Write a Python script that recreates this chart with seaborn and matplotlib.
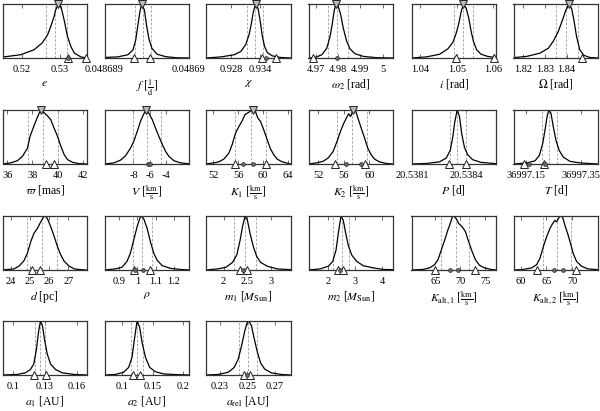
import numpy as np
import pandas as pd
import matplotlib
matplotlib.use("Agg")
import matplotlib.pyplot as plt
import seaborn as sns

sns.set_theme(style="ticks")
plt.rcParams["font.family"] = ["Liberation Serif", "DejaVu Serif"]
plt.rcParams["mathtext.fontset"] = "stix"

# ---------------- data ----------------
e_x = [0.5153, 0.5197, 0.5232, 0.5254, 0.5268, 0.5276, 0.5285, 0.5289, 0.5296, 0.5303, 0.5311, 0.5320, 0.5329, 0.5338, 0.5355, 0.5371]
e_y = [0.02, 0.06, 0.15, 0.28, 0.43, 0.58, 0.77, 0.89, 1.0, 0.95, 0.71, 0.40, 0.21, 0.09, 0.02, 0.0]
e_q = [0.5263, 0.5288, 0.5318]; e_peak = [0.5296]; e_tri = [0.5320, 0.5368]; e_dot = [0.5322]
e_ticks = [0.52, 0.53]; e_labels = ["0.52", "0.53"]; e_lim = (0.5150, 0.5371)

f_x = [0.048689000, 0.048689154, 0.048689276, 0.048689337, 0.048689370, 0.048689398, 0.048689419, 0.048689439,
       0.048689472, 0.048689500, 0.048689528, 0.048689561, 0.048689622, 0.048689724, 0.048689846, 0.048690000]
f_y = [0.01, 0.02, 0.06, 0.15, 0.34, 0.64, 0.86, 1.0, 0.89, 0.58, 0.34, 0.18, 0.07, 0.025, 0.005, 0.0]
f_q = [0.048689357, 0.048689455, 0.048689549]; f_peak = [0.048689439]; f_tri = [0.048689350, 0.048689533]; f_dot = []
f_ticks = [0.048689, 0.04869]; f_labels = ["0.048689", "0.04869"]; f_lim = (0.0486889995, 0.0486900005)

chi_x = [0.92288, 0.92595, 0.92868, 0.93005, 0.93107, 0.93175, 0.93223, 0.93264, 0.93312, 0.93360, 0.93401, 0.93449,
         0.93496, 0.93551, 0.93654, 0.93824, 0.94029]
chi_y = [0.0, 0.02, 0.06, 0.12, 0.25, 0.43, 0.64, 0.86, 1.0, 0.92, 0.71, 0.40, 0.21, 0.10, 0.04, 0.01, 0.0]
chi_q = [0.93128, 0.93298, 0.93470]; chi_peak = [0.93312]; chi_tri = [0.93449, 0.93722]; chi_dot = [0.93517]
chi_ticks = [0.928, 0.934]; chi_labels = ["0.928", "0.934"]; chi_lim = (0.92288, 0.94029)

w2_x = [4.96679, 4.96978, 4.97277, 4.97500, 4.97647, 4.97750, 4.97826, 4.97902, 4.98018, 4.98125, 4.98241, 4.98393,
        4.98540, 4.98763, 4.99134, 4.99732, 5.00473]
w2_y = [0.0, 0.01, 0.06, 0.18, 0.40, 0.64, 0.86, 1.0, 0.95, 0.80, 0.55, 0.31, 0.17, 0.08, 0.03, 0.006, 0.0]
w2_q = [4.97545, 4.97946, 4.98464]; w2_peak = [4.97902]; w2_tri = [4.96875]; w2_dot = [4.97973]
w2_ticks = [4.97, 4.98, 4.99, 5.0]; w2_labels = ["4.97", "4.98", "4.99", "5"]; w2_lim = (4.9668, 5.0047)

inc_x = [1.03754, 1.04164, 1.04527, 1.04753, 1.04890, 1.04982, 1.05053, 1.05119, 1.05181, 1.05255, 1.05326, 1.05392,
         1.05454, 1.05544, 1.05664, 1.05844, 1.06074]
inc_y = [0.0, 0.02, 0.07, 0.17, 0.29, 0.46, 0.64, 0.86, 1.0, 0.92, 0.74, 0.49, 0.31, 0.15, 0.07, 0.03, 0.006]
inc_q = [1.04917, 1.05162, 1.05454]; inc_peak = [1.05181]; inc_tri = [1.04963, 1.06008]; inc_dot = []
inc_ticks = [1.04, 1.05, 1.06]; inc_labels = ["1.04", "1.05", "1.06"]; inc_lim = (1.03754, 1.06074)

Om_x = [1.81539, 1.82157, 1.82770, 1.83152, 1.83382, 1.83613, 1.83816, 1.83968, 1.84120, 1.84230, 1.84336, 1.84461,
        1.84613, 1.84797, 1.85074, 1.85456]
Om_y = [0.006, 0.03, 0.09, 0.18, 0.31, 0.49, 0.71, 0.89, 1.0, 0.92, 0.71, 0.40, 0.15, 0.05, 0.01, 0.0]
Om_q = [1.83507, 1.83954, 1.84507]; Om_peak = [1.84120]; Om_tri = [1.84737]; Om_dot = []
Om_ticks = [1.82, 1.83, 1.84]; Om_labels = ["1.82", "1.83", "1.84"]; Om_lim = (1.81539, 1.85456)

plx_x = [35.60, 36.26, 36.80, 37.20, 37.60, 37.81, 38.00, 38.26, 38.53, 38.72, 38.93, 39.20, 39.46, 39.73, 40.00,
         40.26, 40.53, 40.80, 41.20, 41.73, 42.34]
plx_y = [0.0, 0.02, 0.06, 0.14, 0.29, 0.51, 0.63, 0.79, 0.94, 1.0, 0.95, 0.89, 0.82, 0.66, 0.51, 0.33, 0.17, 0.08,
         0.03, 0.006, 0.0]
plx_q = [37.65, 38.88, 40.05]; plx_peak = [38.72]; plx_tri = [39.06, 39.68]; plx_dot = []
plx_ticks = [36, 38, 40, 42]; plx_labels = ["36", "38", "40", "42"]; plx_lim = (35.62, 42.34)

V_x = [-11.59, -10.46, -9.63, -9.0, -8.38, -7.96, -7.54, -7.13, -6.71, -6.41, -6.09, -5.66, -5.25, -4.84, -4.41,
       -4.0, -3.59, -2.96, -2.13, -0.88]
V_y = [0.0, 0.02, 0.07, 0.15, 0.29, 0.42, 0.60, 0.79, 0.93, 1.0, 0.94, 0.82, 0.66, 0.51, 0.36, 0.23, 0.14, 0.06,
       0.02, 0.0]
V_q = [-8.05, -6.35, -4.55]; V_peak = [-6.41]; V_tri = []; V_dot = [-6.2, -5.9]
V_ticks = [-8, -6, -4]; V_labels = ["-8", "-6", "-4"]; V_lim = (-11.6, -1.1)

K1_x = [50.77, 52.10, 52.90, 53.70, 54.50, 55.04, 55.57, 56.10, 56.64, 57.06, 57.44, 57.86, 58.34, 58.77, 59.14,
        59.57, 60.10, 60.64, 61.17, 61.70, 62.24, 63.04, 64.37]
K1_y = [0.0, 0.02, 0.04, 0.09, 0.20, 0.36, 0.57, 0.69, 0.80, 0.91, 0.94, 0.97, 1.0, 0.97, 0.85, 0.79, 0.63, 0.45,
        0.28, 0.17, 0.09, 0.04, 0.0]
K1_q = [55.46, 57.97, 60.48]; K1_peak = [58.34]; K1_tri = [55.46, 60.37]; K1_dot = [56.8, 58.34]
K1_ticks = [52, 56, 60, 64]; K1_labels = ["52", "56", "60", "64"]; K1_lim = (50.85, 64.37)

K2_x = [50.45, 51.75, 52.78, 53.55, 54.33, 54.95, 55.47, 55.98, 56.40, 56.76, 57.07, 57.43, 57.84, 58.20, 58.73,
        59.24, 59.75, 60.28, 60.79, 61.57, 62.60, 63.63]
K2_y = [0.0, 0.02, 0.05, 0.11, 0.23, 0.42, 0.60, 0.75, 0.85, 0.93, 0.88, 1.0, 0.99, 0.85, 0.66, 0.48, 0.29, 0.17,
        0.09, 0.04, 0.01, 0.0]
K2_q = [55.01, 57.27, 59.60]; K2_peak = [57.43]; K2_tri = [54.59, 59.35]; K2_dot = [56.40, 58.73]
K2_ticks = [52, 56, 60]; K2_labels = ["52", "56", "60"]; K2_lim = (50.5, 63.67)

P_x = [20.5380967, 20.5381794, 20.5382528, 20.5382897, 20.5383118, 20.5383262, 20.5383372, 20.5383504, 20.5383631,
       20.5383758, 20.5383907, 20.5384089, 20.5384365, 20.5384828, 20.5385656]
P_y = [0.0, 0.01, 0.04, 0.11, 0.25, 0.50, 0.78, 1.0, 0.88, 0.56, 0.31, 0.17, 0.08, 0.03, 0.006]
P_q = [20.5383118, 20.5383482, 20.5384001]; P_peak = []; P_tri = [20.538304, 20.5384]; P_dot = []
P_ticks = [20.5381, 20.5384]; P_labels = ["20.5381", "20.5384"]; P_lim = (20.538097, 20.538566)

T_x = [36997.1057, 36997.1536, 36997.1832, 36997.1986, 36997.2107, 36997.2189, 36997.2271, 36997.2332, 36997.2403,
       36997.2486, 36997.2582, 36997.2700, 36997.2843, 36997.3082, 36997.3439, 36997.4093]
T_y = [0.0, 0.02, 0.06, 0.16, 0.38, 0.63, 0.90, 1.0, 0.94, 0.69, 0.44, 0.25, 0.13, 0.05, 0.02, 0.0]
T_q = [36997.2071, 36997.2332, 36997.2628]; T_peak = []; T_tri = [36997.1439, 36997.2153]; T_dot = [36997.1629, 36997.2200]
T_ticks = [36997.15, 36997.35]; T_labels = ["36997.15", "36997.35"]; T_lim = (36997.1057, 36997.4093)

d_x = [23.57, 24.17, 24.43, 24.69, 24.87, 25.04, 25.21, 25.39, 25.56, 25.70, 25.79, 25.91, 26.08, 26.26, 26.43,
       26.60, 26.78, 27.04, 27.30, 27.65, 27.96]
d_y = [0.0, 0.02, 0.07, 0.17, 0.31, 0.52, 0.68, 0.77, 0.89, 0.98, 1.0, 0.95, 0.80, 0.62, 0.43, 0.28, 0.16, 0.07,
       0.02, 0.006, 0.0]
d_q = [24.83, 25.65, 26.43]; d_peak = []; d_tri = [25.13, 25.51]; d_dot = []
d_ticks = [24, 25, 26, 27]; d_labels = ["24", "25", "26", "27"]; d_lim = (23.58, 27.96)

rho_x = [0.8188, 0.8779, 0.9149, 0.9425, 0.9608, 0.9790, 0.9978, 1.0122, 1.0199, 1.0343, 1.0530, 1.0713, 1.0895,
         1.1083, 1.1359, 1.1818, 1.2370, 1.2923]
rho_y = [0.0, 0.02, 0.05, 0.16, 0.31, 0.55, 0.80, 0.95, 1.0, 0.95, 0.77, 0.52, 0.31, 0.18, 0.08, 0.03, 0.01, 0.0]
rho_q = [0.9735, 1.0254, 1.0807]; rho_peak = []; rho_tri = [0.9829, 1.0713]; rho_dot = [0.9847, 1.031]
rho_ticks = [0.9, 1.0, 1.1, 1.2]; rho_labels = ["0.9", "1", "1.1", "1.2"]; rho_lim = (0.8188, 1.283)

m1_x = [1.626, 1.873, 2.049, 2.190, 2.281, 2.351, 2.402, 2.457, 2.507, 2.562, 2.634, 2.704, 2.789, 2.930, 3.142, 3.423]
m1_y = [0.0, 0.02, 0.05, 0.14, 0.28, 0.55, 0.80, 1.0, 0.92, 0.68, 0.43, 0.25, 0.14, 0.07, 0.02, 0.006]
m1_q = [2.224, 2.457, 2.683]; m1_peak = []; m1_tri = [2.351, 2.493]; m1_dot = [2.42]
m1_ticks = [2, 2.5, 3]; m1_labels = ["2", "2.5", "3"]; m1_lim = (1.626, 3.423)

m2_x = [1.295, 1.720, 2.022, 2.182, 2.302, 2.385, 2.484, 2.567, 2.655, 2.749, 2.873, 3.055, 3.295, 3.658, 4.022, 4.385]
m2_y = [0.0, 0.02, 0.07, 0.16, 0.37, 0.68, 1.0, 0.92, 0.68, 0.46, 0.28, 0.16, 0.08, 0.04, 0.01, 0.006]
m2_q = [2.182, 2.509, 2.775]; m2_peak = []; m2_tri = [2.385, 2.545]; m2_dot = [2.46]
m2_ticks = [2, 3, 4]; m2_labels = ["2", "3", "4"]; m2_lim = (1.295, 4.385)

Ka1_x = [60.23, 62.53, 63.87, 64.86, 65.52, 66.19, 66.85, 67.50, 67.98, 68.38, 68.70, 69.17, 69.69, 70.37, 71.02,
         71.68, 72.36, 73.01, 73.81, 74.80, 76.13, 77.13]
Ka1_y = [0.0, 0.01, 0.04, 0.10, 0.19, 0.37, 0.55, 0.74, 0.86, 0.98, 1.0, 0.95, 0.86, 0.80, 0.71, 0.52, 0.34, 0.19,
         0.09, 0.04, 0.01, 0.0]
Ka1_q = [66.19, 69.04, 71.68]; Ka1_peak = []; Ka1_tri = [65.0, 73.01]; Ka1_dot = [67.98, 69.63]
Ka1_ticks = [65, 70, 75]; Ka1_labels = ["65", "70", "75"]; Ka1_lim = (60.23, 77.13)

Ka2_x = [58.57, 60.50, 62.13, 63.10, 63.74, 64.38, 65.04, 65.68, 66.20, 66.65, 66.98, 67.29, 67.62, 68.14, 68.59,
         69.11, 69.69, 70.19, 70.85, 71.82, 73.10, 75.04]
Ka2_y = [0.0, 0.01, 0.04, 0.10, 0.22, 0.43, 0.62, 0.77, 0.86, 0.92, 0.89, 0.95, 1.0, 0.98, 0.83, 0.68, 0.49, 0.31,
         0.16, 0.07, 0.02, 0.006]
Ka2_q = [64.38, 67.09, 69.69]; Ka2_peak = []; Ka2_tri = [63.10, 70.66]; Ka2_dot = [66.45, 68.26]
Ka2_ticks = [60, 65, 70]; Ka2_labels = ["60", "65", "70"]; Ka2_lim = (58.57, 75.04)

a1_x = [0.0898, 0.1033, 0.1112, 0.1160, 0.1192, 0.1218, 0.1237, 0.1256, 0.1275, 0.1294, 0.1320, 0.1352, 0.1400,
        0.1464, 0.1575, 0.1697]
a1_y = [0.0, 0.01, 0.04, 0.10, 0.20, 0.48, 0.79, 1.0, 0.91, 0.66, 0.39, 0.20, 0.10, 0.04, 0.01, 0.0]
a1_q = [0.1201, 0.1249, 0.1297]; a1_peak = []; a1_tri = [0.1192, 0.1304]; a1_dot = []
a1_ticks = [0.1, 0.13, 0.16]; a1_labels = ["0.1", "0.13", "0.16"]; a1_lim = (0.0896, 0.1697)

a2_x = [0.0715, 0.0890, 0.1026, 0.1108, 0.1164, 0.1202, 0.1246, 0.1289, 0.1328, 0.1382, 0.1452, 0.1546, 0.1682,
        0.1902, 0.2092]
a2_y = [0.0, 0.01, 0.05, 0.14, 0.33, 0.66, 1.0, 0.88, 0.60, 0.33, 0.14, 0.06, 0.02, 0.006, 0.0]
a2_q = [0.1152, 0.1246, 0.1338]; a2_peak = []; a2_tri = [0.1180, 0.1300]; a2_dot = []
a2_ticks = [0.1, 0.15, 0.2]; a2_labels = ["0.1", "0.15", "0.2"]; a2_lim = (0.0715, 0.2092)

ar_x = [0.2198, 0.2288, 0.2360, 0.2404, 0.2433, 0.2458, 0.2482, 0.2499, 0.2511, 0.2531, 0.2549, 0.2574, 0.2598,
        0.2627, 0.2676, 0.2749, 0.2816]
ar_y = [0.0, 0.01, 0.05, 0.14, 0.29, 0.54, 0.82, 0.97, 1.0, 0.91, 0.69, 0.42, 0.22, 0.11, 0.04, 0.01, 0.0]
ar_q = [0.2440, 0.2506, 0.2571]; ar_peak = []; ar_tri = [0.2477, 0.2518]; ar_dot = [0.2499]
ar_ticks = [0.23, 0.25, 0.27]; ar_labels = ["0.23", "0.25", "0.27"]; ar_lim = (0.2198, 0.2816)

frac_kms = r"$[\frac{\mathrm{km}}{\mathrm{s}}]$"
panels = [
    (r"$e$", e_x, e_y, e_q, e_peak, e_tri, e_dot, e_ticks, e_labels, e_lim),
    (r"$f\ [\frac{1}{\mathrm{d}}]$", f_x, f_y, f_q, f_peak, f_tri, f_dot, f_ticks, f_labels, f_lim),
    (r"$\chi$", chi_x, chi_y, chi_q, chi_peak, chi_tri, chi_dot, chi_ticks, chi_labels, chi_lim),
    (r"$\omega_2$ [rad]", w2_x, w2_y, w2_q, w2_peak, w2_tri, w2_dot, w2_ticks, w2_labels, w2_lim),
    (r"$i$ [rad]", inc_x, inc_y, inc_q, inc_peak, inc_tri, inc_dot, inc_ticks, inc_labels, inc_lim),
    (r"$\Omega$ [rad]", Om_x, Om_y, Om_q, Om_peak, Om_tri, Om_dot, Om_ticks, Om_labels, Om_lim),
    (r"$\varpi$ [mas]", plx_x, plx_y, plx_q, plx_peak, plx_tri, plx_dot, plx_ticks, plx_labels, plx_lim),
    (r"$V$ " + frac_kms, V_x, V_y, V_q, V_peak, V_tri, V_dot, V_ticks, V_labels, V_lim),
    (r"$K_1$ " + frac_kms, K1_x, K1_y, K1_q, K1_peak, K1_tri, K1_dot, K1_ticks, K1_labels, K1_lim),
    (r"$K_2$ " + frac_kms, K2_x, K2_y, K2_q, K2_peak, K2_tri, K2_dot, K2_ticks, K2_labels, K2_lim),
    (r"$P$ [d]", P_x, P_y, P_q, P_peak, P_tri, P_dot, P_ticks, P_labels, P_lim),
    (r"$T$ [d]", T_x, T_y, T_q, T_peak, T_tri, T_dot, T_ticks, T_labels, T_lim),
    (r"$d$ [pc]", d_x, d_y, d_q, d_peak, d_tri, d_dot, d_ticks, d_labels, d_lim),
    (r"$\rho$", rho_x, rho_y, rho_q, rho_peak, rho_tri, rho_dot, rho_ticks, rho_labels, rho_lim),
    (r"$m_1$ [$M_\mathrm{Sun}$]", m1_x, m1_y, m1_q, m1_peak, m1_tri, m1_dot, m1_ticks, m1_labels, m1_lim),
    (r"$m_2$ [$M_\mathrm{Sun}$]", m2_x, m2_y, m2_q, m2_peak, m2_tri, m2_dot, m2_ticks, m2_labels, m2_lim),
    (r"$K_\mathrm{alt,1}$ " + frac_kms, Ka1_x, Ka1_y, Ka1_q, Ka1_peak, Ka1_tri, Ka1_dot, Ka1_ticks, Ka1_labels, Ka1_lim),
    (r"$K_\mathrm{alt,2}$ " + frac_kms, Ka2_x, Ka2_y, Ka2_q, Ka2_peak, Ka2_tri, Ka2_dot, Ka2_ticks, Ka2_labels, Ka2_lim),
    (r"$a_1$ [AU]", a1_x, a1_y, a1_q, a1_peak, a1_tri, a1_dot, a1_ticks, a1_labels, a1_lim),
    (r"$a_2$ [AU]", a2_x, a2_y, a2_q, a2_peak, a2_tri, a2_dot, a2_ticks, a2_labels, a2_lim),
    (r"$a_\mathrm{rel}$ [AU]", ar_x, ar_y, ar_q, ar_peak, ar_tri, ar_dot, ar_ticks, ar_labels, ar_lim),
]

# ---------------- layout ----------------
W, H = 600, 411
fig = plt.figure(figsize=(6.0, 4.11), dpi=100)
col_left = [2.5, 104.5, 206.0, 308.5, 411.5, 513.5]
row_top = [4.0, 110.0, 216.0, 321.0]
pw, ph = 84.5, 54.0

for k, (label, xs, ys, q, peak, tri, dot, ticks, tlabels, lim) in enumerate(panels):
    r, c = divmod(k, 6)
    ax = fig.add_axes([col_left[c] / W, 1 - (row_top[r] + ph) / H, pw / W, ph / H])
    df = pd.DataFrame({"x": xs, "y": ys})
    sns.lineplot(data=df, x="x", y="y", ax=ax, color="black", lw=0.9, sort=False,
                 estimator=None, legend=False)
    for v in q:
        ax.axvline(v, color="#9a9a9a", lw=0.6, ls=(0, (3, 2)), zorder=1)
    if peak:
        ax.plot(peak, [1.0] * len(peak), "v", mfc="#bbbbbb", mec="#222222", ms=5.5, mew=0.7,
                clip_on=False, zorder=6)
    if tri:
        ax.plot(tri, [0.0] * len(tri), "^", mfc="white", mec="#222222", ms=5.5, mew=0.7,
                clip_on=False, zorder=6)
    if dot:
        ax.plot(dot, [0.0] * len(dot), "o", mfc="#666666", mec="#333333", ms=2.8, mew=0.5,
                clip_on=False, zorder=7)
    ax.set_xlim(*lim)
    ax.set_ylim(0, 1.0)
    ax.set_yticks([])
    ax.set_xticks(ticks)
    ax.set_xticklabels(tlabels)
    ax.tick_params(axis="x", direction="in", length=3, width=0.6, color="#555555",
                   top=True, bottom=True, labelsize=7.5, pad=5, labelcolor="black")
    ax.set_xlabel(label, fontsize=8.5, labelpad=2.5, color="black")
    ax.set_ylabel("")
    for s in ax.spines.values():
        s.set_color("#333333")
        s.set_linewidth(0.9)
    ax.set_facecolor("white")

fig.savefig("out.png", dpi=100, facecolor="white")
